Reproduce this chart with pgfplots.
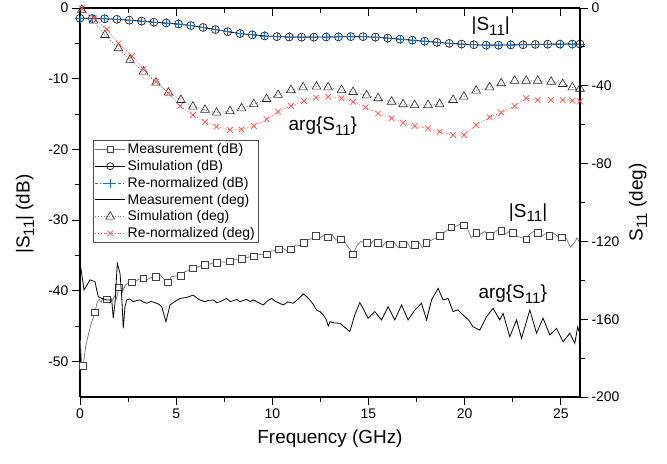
\documentclass[border=0pt]{standalone}
\usepackage{pgfplots}
\pgfplotsset{compat=1.18}
\usepackage{fontspec}
\setmainfont{Liberation Sans}
\definecolor{blueC}{RGB}{30,115,190}
\definecolor{redC}{RGB}{255,80,80}
\newcommand{\Sub}[1]{\raisebox{-0.45ex}{\scalebox{0.8}{#1}}}
\pgfplotsset{
  common/.style={scale only axis, width=500bp, height=389bp, xmin=0, xmax=26,
    at={(0,0)}, anchor=south west,
    /pgf/number format/assume math mode=true,
    tick label style={font=\fontsize{14}{16}\selectfont},
    label style={font=\fontsize{19}{22}\selectfont},
    minor x tick num=1, major tick length=8bp, minor tick length=5bp,
    every tick/.style={black, line width=0.9bp},
    axis line style={black, line width=1.1bp},
    xtick={0,5,...,25}},
}
\begin{document}
\begin{tikzpicture}[font=\fontsize{14}{16}\selectfont]
% ---------------- left axis (dB) ----------------
\begin{axis}[common, ymin=-55, ymax=0, axis x line*=bottom, axis y line*=left,
  tick align=outside, ytick={-50,-40,...,0}, minor y tick num=1,
  xlabel={Frequency (GHz)}, ylabel={|S\Sub{11}| (dB)},
  xlabel style={at={(axis description cs:0.5,-0.108)}, anchor=center},
  ylabel style={at={(axis description cs:-0.11,0.47)}, anchor=center}]
% Measurement dB line
\addplot[draw=black!55, line width=0.7bp] coordinates {
(0.02,-47.0)(0.1,-50.8)(0.16,-50.6)(0.3,-47.8)(0.45,-46.0)(0.6,-44.5)(0.78,-43.0)
(0.9,-41.5)(1.0,-41.2)(1.1,-41.6)(1.2,-41.0)(1.3,-41.4)(1.4,-41.2)(1.5,-41.6)(1.6,-41.0)
(1.7,-41.3)(1.8,-40.7)(1.9,-41.1)(2.03,-39.5)(2.2,-40.2)(2.35,-39.2)(2.5,-38.9)(2.7,-38.8)
(2.9,-38.6)(3.1,-38.3)(3.3,-38.2)(3.5,-38.4)(3.7,-38.1)(3.95,-38.0)(4.15,-37.7)(4.35,-38.3)
(4.57,-38.8)(4.75,-38.0)(4.95,-37.9)(5.25,-37.9)(5.45,-37.3)(5.65,-37.1)(5.87,-36.8)
(6.05,-36.7)(6.3,-36.4)(6.5,-36.3)(6.75,-36.2)(6.95,-36.0)(7.12,-36.0)(7.35,-35.9)(7.6,-35.9)
(7.8,-35.8)(8.0,-35.6)(8.2,-35.6)(8.4,-35.5)(8.6,-35.3)(8.8,-35.2)(9.04,-35.1)(9.25,-34.8)
(9.5,-34.9)(9.7,-34.8)(9.9,-34.4)(10.1,-34.3)(10.34,-34.1)(10.55,-34.0)(10.75,-34.3)(10.97,-34.1)
(11.2,-33.5)(11.4,-33.6)(11.64,-33.2)(11.85,-32.8)(12.05,-32.6)(12.27,-32.2)(12.45,-32.5)
(12.65,-32.2)(12.9,-32.4)(13.1,-32.0)(13.3,-32.8)(13.55,-32.7)(13.75,-33.0)(13.95,-33.8)
(14.2,-34.8)(14.4,-33.6)(14.6,-33.0)(14.9,-33.2)(15.05,-33.6)(15.25,-32.9)(15.5,-33.2)
(15.7,-33.8)(15.9,-33.1)(16.1,-33.4)(16.3,-33.0)(16.55,-33.9)(16.8,-33.4)(17.0,-33.1)
(17.2,-34.0)(17.4,-33.5)(17.6,-33.0)(17.8,-33.9)(18.0,-33.2)(18.2,-32.9)(18.45,-32.6)
(18.7,-32.2)(18.9,-31.8)(19.1,-31.4)(19.3,-31.0)(19.5,-30.9)(19.75,-30.6)(19.96,-30.7)
(20.15,-31.2)(20.35,-32.5)(20.6,-31.8)(20.8,-32.0)(21.05,-31.6)(21.3,-32.2)(21.5,-31.9)
(21.7,-31.4)(21.9,-31.5)(22.1,-32.0)(22.3,-31.6)(22.5,-31.8)(22.75,-32.3)(23.0,-32.5)
(23.2,-32.7)(23.4,-31.9)(23.6,-31.6)(23.8,-31.8)(24.0,-32.3)(24.2,-31.9)(24.4,-32.2)
(24.6,-31.8)(24.85,-32.3)(25.05,-32.4)(25.3,-32.6)(25.5,-33.8)(25.7,-33.2)(25.85,-32.5)(26.0,-33.3)};
% Measurement dB markers
\addplot[only marks, mark=square*, mark size=3.3bp, mark options={draw=black!75, fill=white, line width=0.6bp}] coordinates {
(0.16,-50.6)(0.78,-43.0)(1.4,-41.2)(2.03,-39.5)(2.7,-38.8)(3.3,-38.2)(3.95,-38.0)(4.57,-38.8)
(5.25,-37.9)(5.87,-36.8)(6.5,-36.3)(7.12,-36.0)(7.8,-35.8)(8.4,-35.5)(9.04,-35.1)(9.7,-34.8)
(10.34,-34.1)(10.97,-34.1)(11.64,-33.2)(12.27,-32.2)(12.9,-32.4)(13.55,-32.7)(14.2,-34.8)
(14.9,-33.2)(15.5,-33.2)(16.1,-33.4)(16.8,-33.4)(17.4,-33.5)(18.0,-33.2)(18.7,-32.2)
(19.3,-31.0)(19.96,-30.7)(20.6,-31.8)(21.3,-32.2)(21.9,-31.5)(22.5,-31.8)(23.2,-32.7)
(23.8,-31.8)(24.4,-32.2)(25.05,-32.4)};
% Simulation dB
\addplot[black, line width=0.8bp, mark=o, mark size=4bp, mark options={line width=0.6bp}] coordinates {
(0,-1.45)(0.64,-1.48)(1.28,-1.52)(1.92,-1.6)(2.56,-1.72)(3.2,-1.85)(3.84,-2.0)(4.48,-2.12)
(5.12,-2.26)(5.76,-2.48)(6.4,-2.75)(7.04,-3.05)(7.68,-3.35)(8.32,-3.6)(8.96,-3.8)(9.6,-3.95)
(10.24,-4.05)(10.88,-4.1)(11.52,-4.12)(12.16,-4.12)(12.8,-4.1)(13.44,-4.08)(14.08,-4.05)
(14.72,-4.05)(15.36,-4.12)(16.0,-4.25)(16.64,-4.4)(17.28,-4.55)(17.92,-4.7)(18.56,-4.85)
(19.2,-5.0)(19.84,-5.1)(20.48,-5.2)(21.12,-5.25)(21.76,-5.25)(22.4,-5.22)(23.04,-5.2)
(23.68,-5.15)(24.32,-5.12)(24.96,-5.1)(25.6,-5.1)(26,-5.1)};
% Re-normalized dB
\addplot[blueC, dash dot, line width=0.9bp, mark=+, mark size=4.5bp, mark options={solid, line width=0.8bp}] coordinates {
(0,-1.45)(0.64,-1.48)(1.28,-1.52)(1.92,-1.6)(2.56,-1.72)(3.2,-1.85)(3.84,-2.0)(4.48,-2.12)
(5.12,-2.26)(5.76,-2.48)(6.4,-2.75)(7.04,-3.05)(7.68,-3.35)(8.32,-3.6)(8.96,-3.8)(9.6,-3.95)
(10.24,-4.05)(10.88,-4.1)(11.52,-4.12)(12.16,-4.12)(12.8,-4.1)(13.44,-4.08)(14.08,-4.05)
(14.72,-4.05)(15.36,-4.12)(16.0,-4.25)(16.64,-4.4)(17.28,-4.55)(17.92,-4.7)(18.56,-4.85)
(19.2,-5.0)(19.84,-5.1)(20.48,-5.2)(21.12,-5.25)(21.76,-5.25)(22.4,-5.22)(23.04,-5.2)
(23.68,-5.15)(24.32,-5.12)(24.96,-5.1)(25.6,-5.1)(26,-5.1)};
\node[font=\fontsize{19}{22}\selectfont] at (axis cs:21.36,-2.55) {|S\Sub{11}|};
\node[font=\fontsize{19}{22}\selectfont] at (axis cs:12.63,-16.7) {arg\{S\Sub{11}\}};
\node[font=\fontsize{19}{22}\selectfont] at (axis cs:23.3,-28.9) {|S\Sub{11}|};
\node[font=\fontsize{19}{22}\selectfont] at (axis cs:22.5,-40.45) {arg\{S\Sub{11}\}};
\end{axis}
% ---------------- top ticks ----------------
\begin{axis}[common, ymin=0, ymax=1, axis x line*=top, hide y axis,
  tick align=inside, xticklabels={}]
\end{axis}
% ---------------- right axis (deg) ----------------
\begin{axis}[common, ymin=-200, ymax=0, axis y line*=right, axis x line=none,
  tick align=outside, ytick={-200,-160,...,0}, minor y tick num=1,
  ylabel={S\Sub{11} (deg)},
  ylabel style={at={(axis description cs:1.116,0.5)}, anchor=center},
  legend style={at={(axis description cs:0.026,0.661)}, anchor=north west,
    draw=black!70, line width=0.6bp, font=\fontsize{14}{16}\selectfont,
    inner sep=1.5bp, row sep=1.2bp, cells={anchor=west}},
  legend image code/.code={\draw[mark repeat=2, mark phase=2] plot coordinates {(0bp,0bp) (15bp,0bp) (30bp,0bp)};}]
\addlegendimage{draw=black!55, line width=0.7bp, mark=square*, mark size=3bp, mark options={draw=black!75, fill=white, line width=0.6bp}}
\addlegendentry{Measurement (dB)}
\addlegendimage{black, line width=0.8bp, mark=o, mark size=3.5bp, mark options={line width=0.6bp}}
\addlegendentry{Simulation (dB)}
\addlegendimage{blueC, dash dot, line width=0.9bp, mark=+, mark size=4.5bp, mark options={solid, line width=0.8bp}}
\addlegendentry{Re-normalized (dB)}
% Measurement deg
\addplot[black, line width=0.8bp] coordinates {
(0,-130.6)(0.21,-145.0)(0.52,-139.8)(0.78,-140.7)(0.87,-145)(0.95,-148.4)(1.13,-149.3)
(1.39,-150.1)(1.65,-150.1)(1.73,-159.5)(1.82,-151.7)(1.94,-131.3)(2.08,-136.4)(2.17,-148.4)
(2.25,-164.7)(2.34,-153.6)(2.43,-150.1)(2.6,-149.6)(2.77,-151.0)(2.95,-150.4)(3.12,-150.1)(3.3,-151.2)(3.47,-151.8)
(3.7,-150.9)(3.9,-151.5)(4.1,-152.3)(4.25,-153.6)(4.47,-161.3)(4.68,-152.7)(4.95,-150.8)(5.2,-149.3)(5.55,-148.8)
(5.89,-147.6)(6.05,-148.9)(6.24,-150.1)(6.5,-151.0)(6.7,-150.3)(6.93,-150.1)(7.1,-151.5)(7.28,-151)(7.45,-150.2)(7.62,-149.3)
(7.8,-150.9)(7.97,-150.5)(8.15,-149.8)(8.32,-151)(8.5,-150.3)(8.66,-149.8)(8.85,-150.9)(9.01,-150.1)(9.25,-151.3)(9.53,-152.7)
(9.75,-150.6)(9.96,-149.3)(10.15,-150.8)(10.31,-151.5)(10.57,-152.7)(10.8,-151.1)(11.09,-151.8)(11.35,-149.6)(11.61,-147.0)
(11.8,-148.5)(11.95,-150.1)(12.15,-152.6)(12.3,-155.3)(12.5,-156.2)(12.65,-157.8)(12.8,-160.1)(12.91,-163.5)(13.0,-161.3)(13.2,-161.9)
(13.51,-162.1)(13.75,-164.0)(14.03,-166.4)(14.3,-157.5)(14.55,-151.5)(14.78,-155.6)(14.98,-159.5)(15.33,-156.1)
(15.68,-160.4)(16.02,-153.6)(16.37,-160.4)(16.72,-152.7)(17.06,-160.4)(17.41,-155.3)
(17.76,-151.8)(18.02,-160.4)(18.28,-150.1)(18.62,-144.1)(18.88,-150.1)(19.14,-149.3)
(19.4,-156.1)(19.65,-155.2)(19.92,-157.8)(20.2,-160.3)(20.44,-163.9)(20.79,-165.6)(21.14,-158.7)(21.48,-154.4)
(21.83,-160.4)(22.0,-157)(22.35,-169)(22.7,-160.4)(22.96,-169.8)(23.39,-155.3)(23.74,-167.2)
(24.08,-159.5)(24.43,-168.1)(24.78,-164.7)(25.12,-171.6)(25.47,-167.2)(25.73,-172.4)(25.88,-163.9)(26,-168)};
\addlegendentry{Measurement (deg)}
% Simulation deg
\addplot[black!50, dotted, line width=0.8bp, mark=triangle, mark size=5bp, mark options={solid, draw=black!85, line width=0.6bp}] coordinates {
(0.09,-1)(0.7,-6.5)(1.3,-13.9)(2.0,-20.7)(2.6,-26.7)(3.3,-32.7)(3.95,-38.4)(4.6,-43.5)
(5.25,-47.3)(5.87,-50.7)(6.5,-52.4)(7.1,-53.8)(7.8,-53.0)(8.4,-51.6)(9.04,-49.4)(9.7,-46.8)
(10.3,-44.7)(10.97,-42.2)(11.6,-40.8)(12.3,-40.4)(12.9,-40.8)(13.6,-42.2)(14.2,-43.2)(14.9,-44.9)
(15.5,-46.4)(16.2,-48.2)(16.8,-49.5)(17.4,-49.9)(18.1,-49.9)(18.7,-49.4)(19.4,-47.3)(19.96,-45.6)
(20.6,-42.5)(21.3,-40.8)(21.9,-38.7)(22.6,-37.4)(23.2,-37.4)(23.8,-37.4)(24.5,-37.9)(25.1,-39.1)
(25.6,-40.8)(26,-41.5)};
\addlegendentry{Simulation (deg)}
% Re-normalized deg
\addplot[redC, dotted, line width=0.8bp, mark=x, mark size=4bp, mark options={solid, line width=0.7bp}] coordinates {
(0.09,-0.3)(0.73,-5.3)(1.4,-11)(2.0,-18.2)(2.7,-24.7)(3.3,-31.5)(3.95,-37.9)(4.6,-43.9)
(5.2,-50.4)(5.87,-55)(6.5,-58.5)(7.1,-61)(7.8,-62.7)(8.4,-62.4)(9.04,-60.7)(9.7,-57.2)
(10.3,-53.3)(10.97,-50.4)(11.64,-47.8)(12.27,-46.1)(12.9,-45.6)(13.6,-46.4)(14.2,-48.2)
(14.85,-51.1)(15.5,-54.2)(16.2,-56.7)(16.8,-59)(17.4,-60.7)(18.1,-61.9)(18.7,-63.6)
(19.4,-65.3)(19.96,-65.3)(20.6,-60.2)(21.3,-56.2)(21.9,-53.8)(22.6,-50.4)(23.2,-46.4)
(23.8,-47.3)(24.5,-47.3)(25.1,-47.3)(25.6,-47.6)(26,-48)};
\addlegendentry{Re-normalized (deg)}
\end{axis}
\pgfresetboundingbox
\path[use as bounding box] (-80bp,-67bp) rectangle (587bp,397bp);
\end{tikzpicture}
\end{document}
